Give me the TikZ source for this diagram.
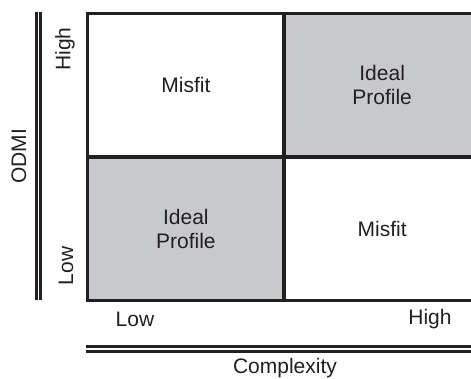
\documentclass[tikz,border=0pt]{standalone}
\usepackage{fontspec}
\setmainfont{Liberation Sans}

\definecolor{ink}{HTML}{231F20}
\definecolor{shade}{HTML}{C8C9CB}

\begin{document}
\begin{tikzpicture}[x=1pt,y=1pt,font=\fontsize{21}{24}\selectfont,text=ink,
    axisline/.style={draw=ink,double=white}]

      \useasboundingbox (0,0) rectangle (471,379);

      \begin{scope}[every node/.style={rectangle,draw=ink,line width=3.3pt,
          minimum width=196.3pt,minimum height=143.4pt,align=center,inner sep=0pt}]
        \node[fill=white] (misfitTL) at (185.85,293.5) {Misfit};
        \node[fill=shade] (idealTR) at (382.15,293.5) {Ideal\\Profile};
        \node[fill=shade] (idealBL) at (185.85,150.4) {Ideal\\Profile};
        \node[fill=white] (misfitBR) at (382.15,150.4) {Misfit};
      \end{scope}

      \coordinate (odmiTop) at (38.3,366.7);
      \coordinate (odmiBot) at (38.3,79);
      \coordinate (cplxLeft) at (86,29.8);
      \coordinate (cplxRight) at (471,29.8);

      \path[axisline,line width=2.6pt,double distance=1.4pt] (odmiTop) -- (odmiBot);
      \path[axisline,line width=3.2pt,double distance=1.8pt] (cplxLeft) -- (cplxRight);

      \begin{scope}[every node/.style={inner sep=0pt}]
        \node[rotate=90] (odmi) at (19,222.5) {ODMI};
        \node[rotate=90] (odmiHigh) at (65,330) {High};
        \node[rotate=90] (odmiLow) at (66,113) {Low};
        \node (cplxLow) at (135,60) {Low};
        \node (cplxHigh) at (430,60) {High};
        \node (cplx) at (285,11) {Complexity};
      \end{scope}

    \end{tikzpicture}
\end{document}
